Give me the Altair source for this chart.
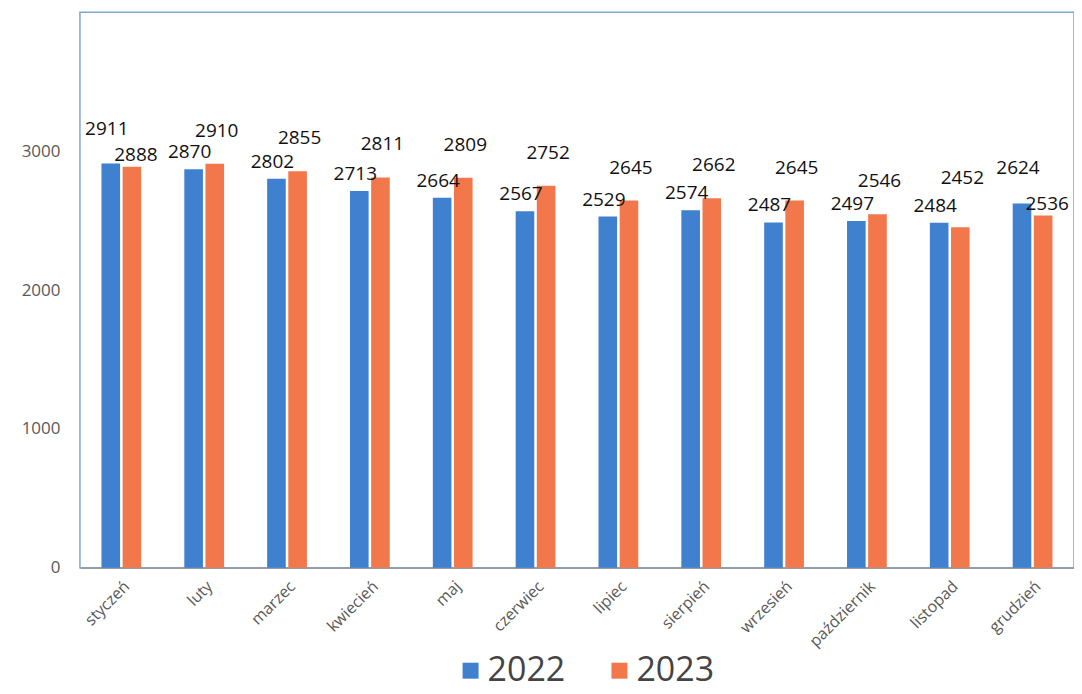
import altair as alt
import pandas as pd

months = ["styczeń", "luty", "marzec", "kwiecień", "maj", "czerwiec",
          "lipiec", "sierpień", "wrzesień", "październik", "listopad", "grudzień"]
v2022 = [2911, 2870, 2802, 2713, 2664, 2567, 2529, 2574, 2487, 2497, 2484, 2624]
v2023 = [2888, 2910, 2855, 2811, 2809, 2752, 2645, 2662, 2645, 2546, 2452, 2536]
years = ["2022", "2023"]
colors = ["#3f80cf", "#f2784b"]
y_ticks = [0, 1000, 2000, 3000]
raised_2022 = ["styczeń", "grudzień"]
raised_2023 = ["listopad"]

rows = []
for m, a, b in zip(months, v2022, v2023):
    rows.append({"Miesiąc": m, "Rok": "2022", "Wartość": a})
    rows.append({"Miesiąc": m, "Rok": "2023", "Wartość": b})
df = pd.DataFrame(rows)

x = alt.X("Miesiąc:N", sort=months, title=None,
          scale=alt.Scale(paddingInner=0.52, paddingOuter=0.26),
          axis=alt.Axis(labelAngle=-45, labelAlign="right", labelBaseline="top",
                        labelFontSize=16, labelColor="#595959", labelFont="Open Sans",
                        ticks=False, domainColor="#9a9a9a", domainWidth=1.5,
                        labelPadding=10, labelLimit=200))
y = alt.Y("Wartość:Q", title=None,
          scale=alt.Scale(domain=[0, 4000], nice=False),
          axis=alt.Axis(values=y_ticks, format="d", grid=False, ticks=False, domain=False,
                        labelFontSize=17, labelColor="#595959", labelFont="Open Sans",
                        labelPadding=20))
xo = alt.XOffset("Rok:N", scale=alt.Scale(paddingInner=0.12))

bars = alt.Chart(df).mark_bar().encode(
    x=x, y=y, xOffset=xo,
    color=alt.Color("Rok:N", scale=alt.Scale(domain=years, range=colors),
                    legend=alt.Legend(title=None, orient="none", direction="horizontal",
                                      legendX=374, legendY=642, labelFontSize=34,
                                      labelColor="#444444", labelFont="Open Sans",
                                      symbolType="square", symbolSize=256,
                                      symbolStrokeWidth=0, columnPadding=37,
                                      labelOffset=0))
)

in_r22 = alt.FieldOneOfPredicate(field="Miesiąc", oneOf=raised_2022)
in_r23 = alt.FieldOneOfPredicate(field="Miesiąc", oneOf=raised_2023)


def labels(year, dx, dy, pred=None, negate=None):
    base = alt.Chart(df).transform_filter(alt.datum.Rok == year)
    if pred is not None:
        base = base.transform_filter(pred)
    for p in (negate or []):
        base = base.transform_filter(~p)
    return base.mark_text(
        fontSize=19, font="Open Sans", color="#111111", baseline="alphabetic",
        dx=dx, dy=dy
    ).encode(x=x, y=y, xOffset=xo, text="Wartość:Q")


layers = [
    bars,
    labels("2022", -4, -11, negate=[in_r22]),
    labels("2022", -4, -29, pred=in_r22),
    labels("2023", 2, -27, negate=[in_r22, in_r23]),
    labels("2023", 4, -6, pred=in_r22),
    labels("2023", 2, -43, pred=in_r23),
]

chart = alt.layer(*layers).properties(
    width=995, height=556,
    autosize=alt.AutoSizeParams(type="none"),
    padding={"left": 72, "top": 4, "right": 0, "bottom": 126},
).configure_view(stroke="#7aa7d6", strokeWidth=1.5)

chart.save("out.html", embed_options={"renderer": "svg", "actions": False})
